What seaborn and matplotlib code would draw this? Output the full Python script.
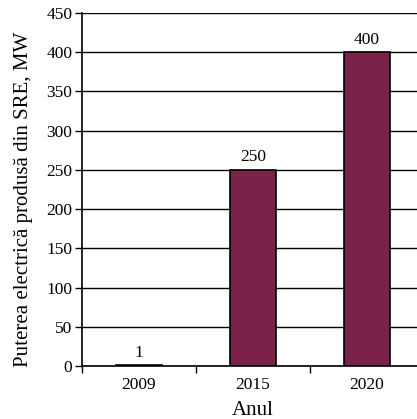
import matplotlib
matplotlib.use("Agg")
import matplotlib.pyplot as plt
import seaborn as sns
import pandas as pd

years = ["2009", "2015", "2020"]
power_mw = [1, 250, 400]

sns.set_theme(style="white")
plt.rcParams["font.family"] = ["Liberation Serif", "DejaVu Serif"]

df = pd.DataFrame({"Anul": years, "Putere": power_mw})

fig = plt.figure(figsize=(4.17, 4.19), dpi=100)
ax = fig.add_axes([82 / 417, 1 - 366 / 419, 342 / 417, 353 / 419])

sns.barplot(data=df, x="Anul", y="Putere", color="#7B2249", saturation=1,
            width=0.40, edgecolor="black", linewidth=1.2, ax=ax, zorder=3)

ax.set_ylim(0, 450)
ax.set_xlim(-0.5, 2.5)
ax.set_yticks(range(0, 451, 50))
ax.yaxis.grid(True, color="black", linewidth=1.0, zorder=0)
ax.set_axisbelow(True)

for s in ["top", "right"]:
    ax.spines[s].set_visible(False)
for s in ["left", "bottom"]:
    ax.spines[s].set_color("black")
    ax.spines[s].set_linewidth(1.2)

# ticks: y outward, x ticks at category boundaries
ax.tick_params(axis="y", direction="out", length=5, width=1, colors="black",
               labelsize=12.5, left=True, pad=2)
ax.set_xticks([0, 1, 2])
ax.set_xticklabels(years)
ax.tick_params(axis="x", which="major", length=0, labelsize=12.5, pad=8,
               colors="black")
ax.set_xticks([-0.5, 0.5, 1.5, 2.5], minor=True)
ax.tick_params(axis="x", which="minor", direction="out", length=5, width=1,
               color="black", bottom=True)

for i, v in enumerate(power_mw):
    ax.text(i, v + 6, str(v), ha="center", va="bottom", fontsize=12.5,
            color="black")

ax.set_xlabel("Anul", fontsize=15, color="black", labelpad=6)
ax.set_ylabel("Puterea electrică produsă din SRE, MW", fontsize=15,
              color="black")
ax.yaxis.set_label_coords(-0.143, 0.473)

fig.savefig("out.png", dpi=100)
